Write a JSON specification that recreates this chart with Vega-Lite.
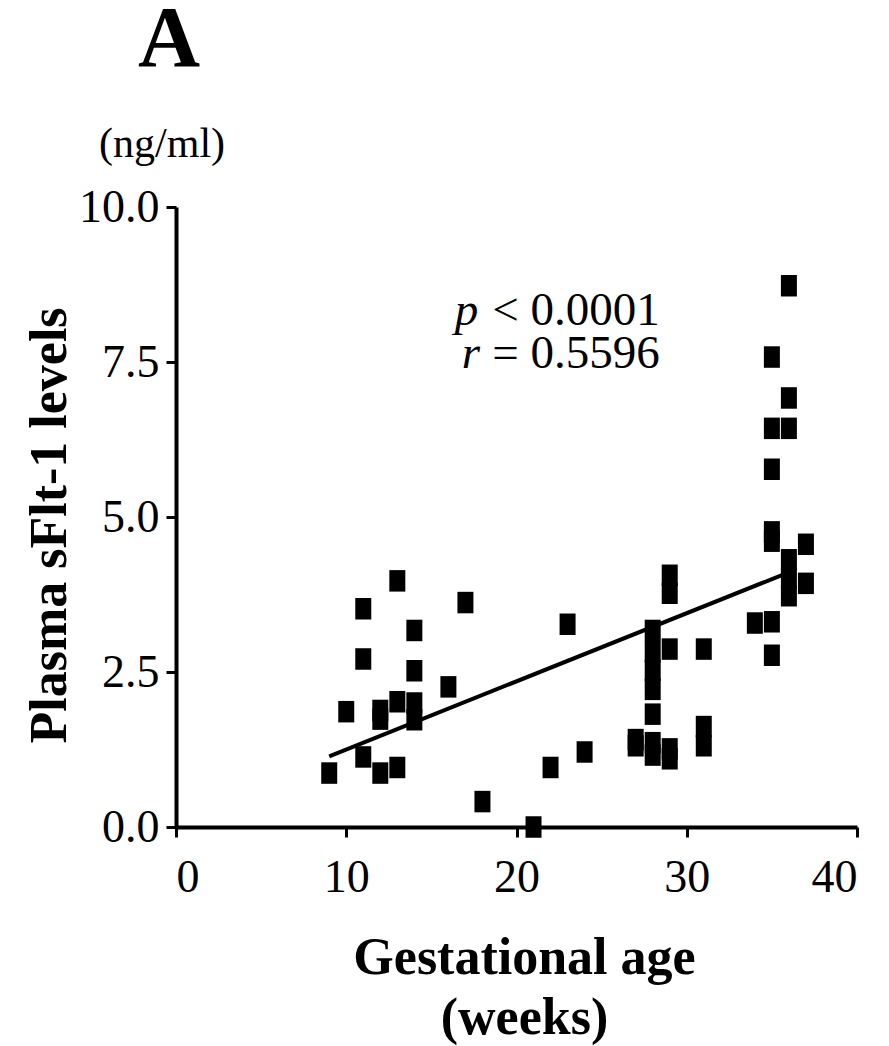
{
  "$schema": "https://vega.github.io/schema/vega-lite/v6.json",
  "width": 681,
  "height": 620,
  "autosize": "none",
  "padding": {"left": 176, "top": 207, "right": 32, "bottom": 219},
  "background": "white",
  "title": {
    "text": "A",
    "font": "Liberation Serif",
    "fontSize": 86,
    "fontWeight": "bold",
    "color": "black",
    "anchor": "start",
    "frame": "group",
    "align": "center",
    "dx": -7,
    "baseline": "alphabetic",
    "offset": -29
  },
  "config": {
    "view": {"stroke": null},
    "font": "Liberation Serif",
    "axis": {
      "domainColor": "black",
      "domainWidth": 4,
      "tickColor": "black",
      "tickWidth": 3,
      "tickSize": 10,
      "grid": false,
      "labelFont": "Liberation Serif",
      "labelFontSize": 46,
      "labelColor": "black",
      "titleFont": "Liberation Serif",
      "titleFontSize": 52,
      "titleFontWeight": "bold",
      "titleColor": "black"
    }
  },
  "datasets": {
    "points": [
      {"age": 9, "sflt": 0.87}, {"age": 10, "sflt": 1.86},
      {"age": 11, "sflt": 3.52}, {"age": 11, "sflt": 2.71}, {"age": 11, "sflt": 1.13},
      {"age": 12, "sflt": 1.88}, {"age": 12, "sflt": 1.74}, {"age": 12, "sflt": 0.87},
      {"age": 13, "sflt": 3.97}, {"age": 13, "sflt": 2.02}, {"age": 13, "sflt": 0.96},
      {"age": 14, "sflt": 3.17}, {"age": 14, "sflt": 2.52}, {"age": 14, "sflt": 2.0}, {"age": 14, "sflt": 1.73},
      {"age": 16, "sflt": 2.26}, {"age": 17, "sflt": 3.62}, {"age": 18, "sflt": 0.41},
      {"age": 21, "sflt": 0.0}, {"age": 22, "sflt": 0.96}, {"age": 23, "sflt": 3.27}, {"age": 24, "sflt": 1.21},
      {"age": 27, "sflt": 1.41}, {"age": 27, "sflt": 1.31},
      {"age": 28, "sflt": 3.17}, {"age": 28, "sflt": 2.83}, {"age": 28, "sflt": 2.53}, {"age": 28, "sflt": 2.22},
      {"age": 28, "sflt": 1.82}, {"age": 28, "sflt": 1.36}, {"age": 28, "sflt": 1.16},
      {"age": 29, "sflt": 4.06}, {"age": 29, "sflt": 3.77}, {"age": 29, "sflt": 2.87}, {"age": 29, "sflt": 1.26}, {"age": 29, "sflt": 1.1},
      {"age": 31, "sflt": 2.87}, {"age": 31, "sflt": 1.62}, {"age": 31, "sflt": 1.31},
      {"age": 34, "sflt": 3.29},
      {"age": 35, "sflt": 7.58}, {"age": 35, "sflt": 6.43}, {"age": 35, "sflt": 5.77}, {"age": 35, "sflt": 4.76},
      {"age": 35, "sflt": 4.61}, {"age": 35, "sflt": 3.31}, {"age": 35, "sflt": 2.77},
      {"age": 36, "sflt": 8.73}, {"age": 36, "sflt": 6.92}, {"age": 36, "sflt": 6.43}, {"age": 36, "sflt": 4.31},
      {"age": 36, "sflt": 4.01}, {"age": 36, "sflt": 3.73},
      {"age": 37, "sflt": 4.56}, {"age": 37, "sflt": 3.93}
    ],
    "fit": [
      {"age": 9, "sflt": 1.14},
      {"age": 36, "sflt": 4.108}
    ],
    "notes_italic": [
      {"age": 16.38, "sflt": 8.097, "part": "p"},
      {"age": 16.79, "sflt": 7.403, "part": "r"}
    ],
    "notes_plain": [
      {"age": 28.42, "sflt": 8.097, "part": "< 0.0001"},
      {"age": 28.42, "sflt": 7.403, "part": "= 0.5596"}
    ],
    "unit": [
      {"age": -0.82, "sflt": 10.81, "label": "(ng/ml)"}
    ]
  },
  "layer": [
    {
      "data": {"name": "points"},
      "mark": {
        "type": "point",
        "shape": "M-0.744,-1H0.744V1H-0.744Z",
        "size": 462,
        "filled": true,
        "color": "black",
        "opacity": 1
      },
      "encoding": {
        "x": {
          "field": "age",
          "type": "quantitative",
          "scale": {"domain": [0, 40], "nice": false, "zero": false},
          "axis": {
            "values": [0, 10, 20, 30, 40],
            "labelPadding": 18,
            "title": ["Gestational age", "(weeks)"],
            "titleLineHeight": 60,
            "titleX": 348,
            "titleY": 146,
            "titleAlign": "center",
            "titleBaseline": "alphabetic",
            "titleAnchor": null
          }
        },
        "y": {
          "field": "sflt",
          "type": "quantitative",
          "scale": {"domain": [0, 10], "nice": false, "zero": false},
          "axis": {
            "values": [0, 2.5, 5, 7.5, 10],
            "format": ".1f",
            "labelPadding": 7,
            "title": "Plasma sFlt-1 levels",
            "titleAngle": -90,
            "titleX": -111,
            "titleY": 318,
            "titleAlign": "center",
            "titleBaseline": "alphabetic"
          }
        }
      }
    },
    {
      "data": {"name": "fit"},
      "mark": {"type": "line", "color": "black", "strokeWidth": 4},
      "encoding": {
        "x": {"field": "age", "type": "quantitative"},
        "y": {"field": "sflt", "type": "quantitative"}
      }
    },
    {
      "data": {"name": "notes_italic"},
      "mark": {"type": "text", "fontSize": 47, "font": "Liberation Serif", "fontStyle": "italic", "color": "black", "baseline": "alphabetic", "align": "left"},
      "encoding": {
        "x": {"field": "age", "type": "quantitative"},
        "y": {"field": "sflt", "type": "quantitative"},
        "text": {"field": "part"}
      }
    },
    {
      "data": {"name": "notes_plain"},
      "mark": {"type": "text", "fontSize": 47, "font": "Liberation Serif", "color": "black", "baseline": "alphabetic", "align": "right"},
      "encoding": {
        "x": {"field": "age", "type": "quantitative"},
        "y": {"field": "sflt", "type": "quantitative"},
        "text": {"field": "part"}
      }
    },
    {
      "data": {"name": "unit"},
      "mark": {"type": "text", "fontSize": 42, "font": "Liberation Serif", "color": "black", "baseline": "alphabetic", "align": "center"},
      "encoding": {
        "x": {"field": "age", "type": "quantitative"},
        "y": {"field": "sflt", "type": "quantitative"},
        "text": {"field": "label"}
      }
    }
  ]
}
